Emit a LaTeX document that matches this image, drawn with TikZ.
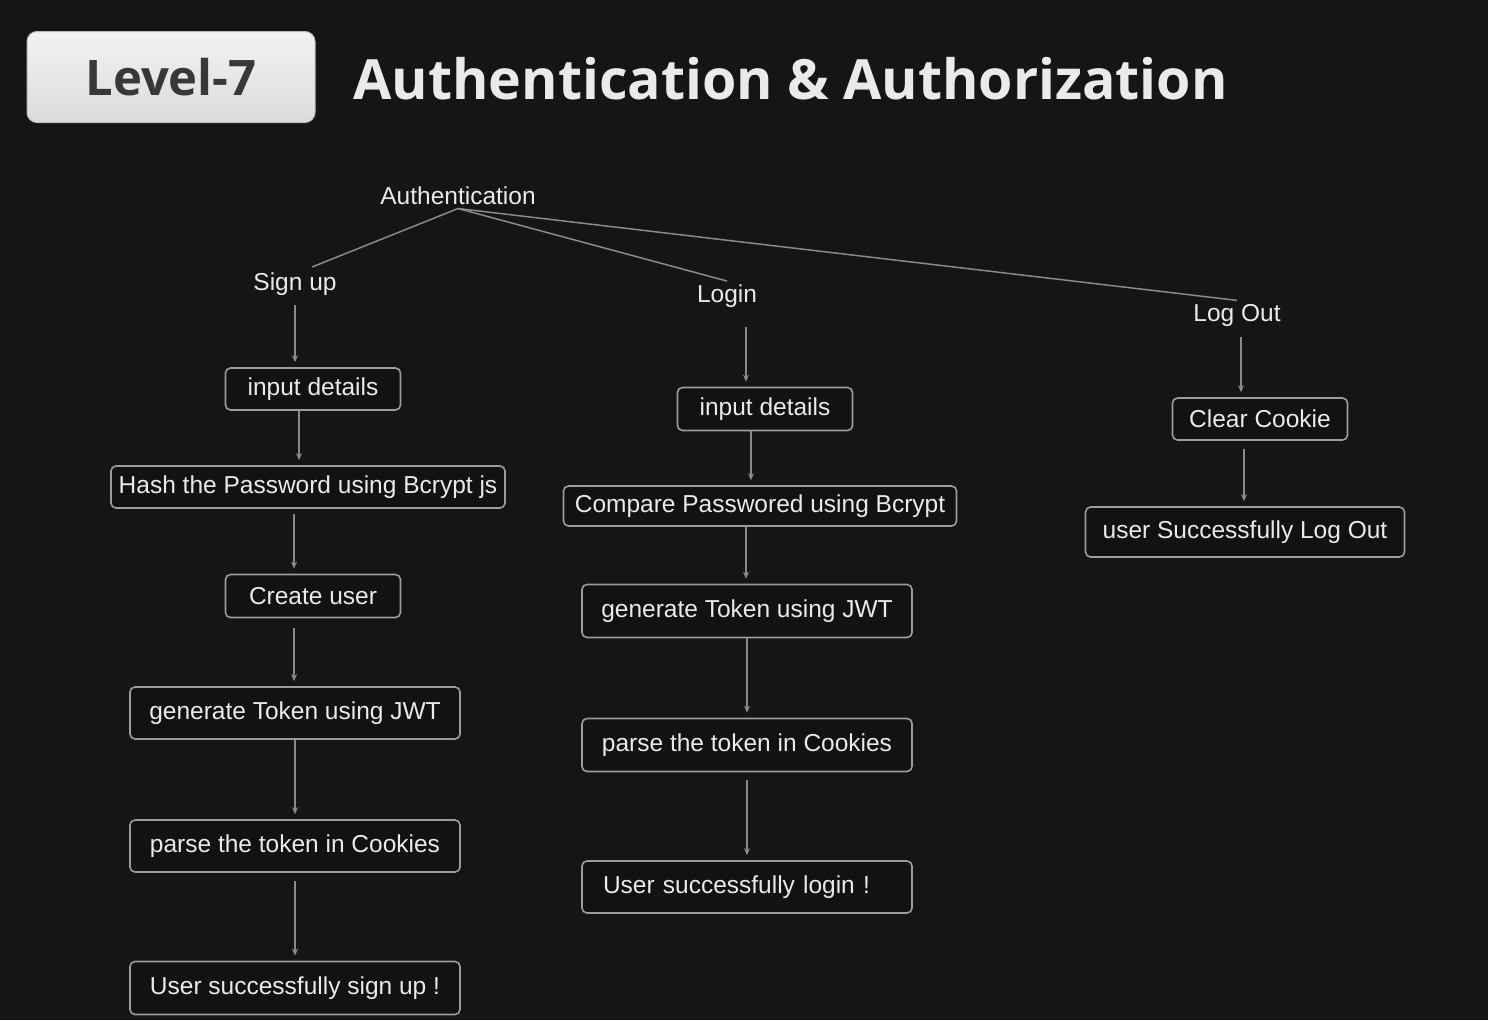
\documentclass[tikz,border=0pt]{standalone}
\usepackage{fontspec}
\setmainfont{Liberation Sans}
\newfontfamily\titlefont{Open Sans}
\usetikzlibrary{arrows.meta}
\definecolor{bgdark}{HTML}{151515}
\definecolor{boxfill}{HTML}{121212}
\definecolor{boxgray}{HTML}{9C9C9C}
\definecolor{linegray}{HTML}{8A8A8A}
\definecolor{textlight}{HTML}{EAEAEA}
\definecolor{leveltext}{HTML}{383838}
\newcommand{\flowfont}{\fontsize{24.5}{29}\selectfont}

\begin{document}
\begin{tikzpicture}[
    x=1pt, y=-1pt,
    flowbox/.style={
        draw=boxgray,
        line width=1.6pt,
        rounded corners=5pt,
        fill=boxfill,
        text=textlight,
        font=\flowfont,
        inner sep=0pt,
        minimum height=42pt
    },
    flowlabel/.style={text=textlight, font=\flowfont},
    flowarrow/.style={-{Stealth[length=7pt,width=6pt]}, draw=linegray, line width=1.5pt, shorten >=5pt},
    branchline/.style={draw=linegray, line width=1.5pt}
]
\fill[bgdark] (0,0) rectangle (1488,1020);
\useasboundingbox (0,0) rectangle (1488,1020);

% header
\node[draw=boxgray!70, line width=1pt, rounded corners=10pt, top color=white!90!gray, bottom color=white!72!gray,
      minimum width=288pt, minimum height=91pt, text=leveltext, font=\titlefont\bfseries\fontsize{49}{56}\selectfont]
      (level) at (171,77) {Level-7};
\node[anchor=west, text=textlight, font=\titlefont\bfseries\fontsize{55.5}{62}\selectfont] (title) at (350,79) {Authentication \& Authorization};

% branches
\node[flowlabel] (auth) at (458,196) {Authentication};
\node[flowlabel] (signup) at (295,284) {Sign up};
\node[flowlabel] (login) at (727,296) {Login};
\node[flowlabel] (logout) at (1237,315) {Log Out};

\draw[branchline] (auth.south) -- ([xshift=17pt,yshift=2pt]signup.north);
\draw[branchline] (auth.south) -- (login.north);
\draw[branchline] (auth.south) -- (logout.north);

% sign up column
\node[flowbox, minimum width=175pt] (sin1) at (313,389) {input details};
\node[flowbox, minimum width=394pt] (sin2) at (308,487) {Hash the Password using Bcrypt js};
\node[flowbox, minimum width=175pt, minimum height=43pt] (sin3) at (313,596) {Create user};
\node[flowbox, minimum width=330pt, minimum height=52pt] (sin4) at (295,713) {generate Token using JWT};
\node[flowbox, minimum width=330pt, minimum height=52pt] (sin5) at (295,846) {parse the token in Cookies};
\node[flowbox, minimum width=330pt, minimum height=53pt] (sin6) at (295,988) {User successfully sign up !};

\draw[flowarrow] ([yshift=-6pt]signup.south) -- (signup.south |- sin1.north);
\draw[flowarrow] ([xshift=-14pt]sin1.south) -- ([xshift=-14pt]sin1.south |- sin2.north);
\draw[flowarrow] ([xshift=-14pt,yshift=-5pt]sin2.south) -- ([xshift=-14pt]sin2.south |- sin3.north);
\draw[flowarrow] ([xshift=-19pt,yshift=-10pt]sin3.south) -- ([xshift=-19pt]sin3.south |- sin4.north);
\draw[flowarrow] (sin4.south) -- (sin4.south |- sin5.north);
\draw[flowarrow] ([yshift=-8pt]sin5.south) -- (sin5.south |- sin6.north);

% login column
\node[flowbox, minimum width=175pt, minimum height=43pt] (lin1) at (765,409) {input details};
\node[flowbox, minimum width=393pt, minimum height=40pt] (lin2) at (760,506) {Compare Passwored using Bcrypt};
\node[flowbox, minimum width=330pt, minimum height=53pt] (lin3) at (747,611) {generate Token using JWT};
\node[flowbox, minimum width=330pt, minimum height=53pt] (lin4) at (747,745) {parse the token in Cookies};
\node[flowbox, minimum width=330pt, minimum height=52pt, text width=288pt, align=left] (lin5) at (747,887) {User successfully login !};

\draw[flowarrow] ([xshift=19pt,yshift=-16pt]login.south) -- ([xshift=19pt]login.south |- lin1.north);
\draw[flowarrow] ([xshift=-14pt]lin1.south) -- ([xshift=-14pt]lin1.south |- lin2.north);
\draw[flowarrow] ([xshift=-14pt]lin2.south) -- ([xshift=-14pt]lin2.south |- lin3.north);
\draw[flowarrow] (lin3.south) -- (lin3.south |- lin4.north);
\draw[flowarrow] ([yshift=-8pt]lin4.south) -- (lin4.south |- lin5.north);

% log out column
\node[flowbox, minimum width=175pt] (lout1) at (1260,419) {Clear Cookie};
\node[flowbox, minimum width=319pt, minimum height=50pt] (lout2) at (1245,532) {user Successfully Log Out};

\draw[flowarrow] ([xshift=4pt,yshift=-7pt]logout.south) -- ([xshift=4pt]logout.south |- lout1.north);
\draw[flowarrow] ([xshift=-16pt,yshift=-8pt]lout1.south) -- ([xshift=-16pt]lout1.south |- lout2.north);
\end{tikzpicture}
\end{document}
